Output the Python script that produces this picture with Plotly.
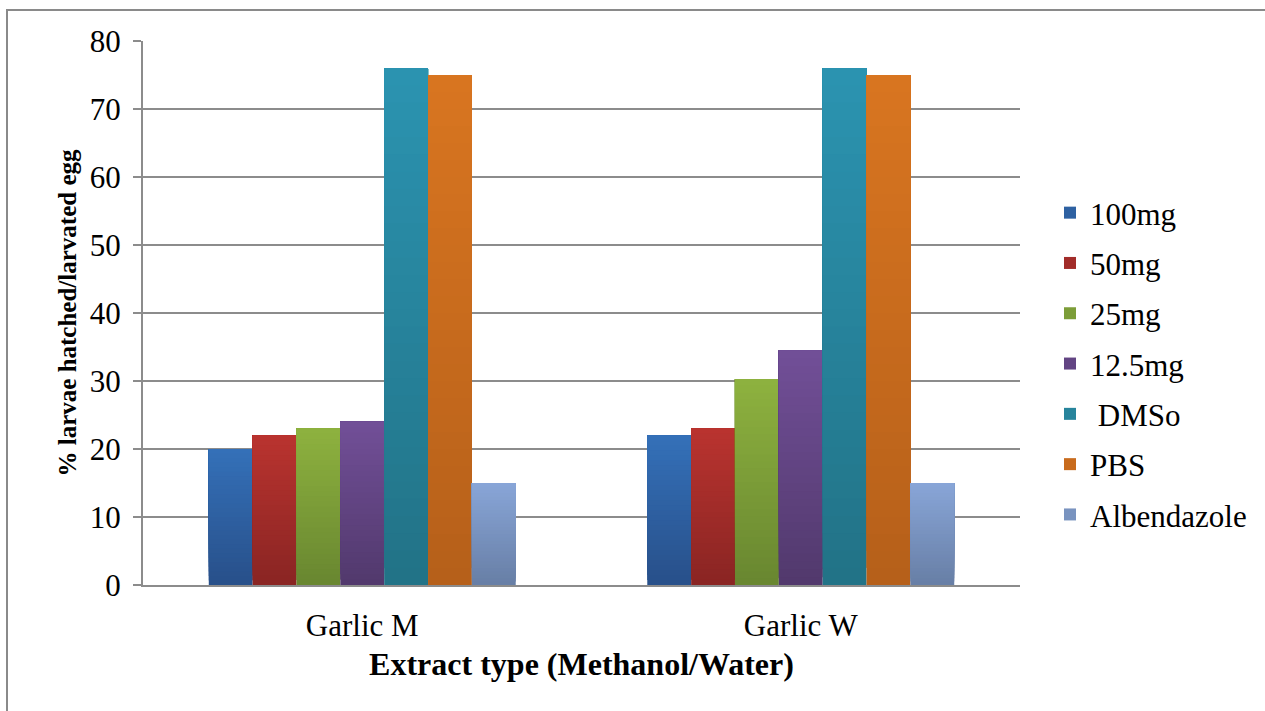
import plotly.graph_objects as go

# Extract types on the category axis
extracts = ["Garlic M", "Garlic W"]

# Percentage of larvae hatched / larvated egg for each treatment
series_names = ["100mg", "50mg", "25mg", "12.5mg", " DMSo", "PBS", "Albendazole"]
val_100mg = [20, 22]
val_50mg = [22, 23]
val_25mg = [23, 30.3]
val_12_5mg = [24, 34.5]
val_dmso = [76, 76]
val_pbs = [75, 75]
val_albendazole = [15, 15]

series_values = [val_100mg, val_50mg, val_25mg, val_12_5mg, val_dmso, val_pbs, val_albendazole]

# Each bar is shaded from a darker bottom colour to a lighter top colour
top_colors = ["#3470B8", "#B9332F", "#8DB13F", "#714F97", "#2B93B0", "#D87520", "#88A5D7"]
bottom_colors = ["#28508A", "#8A2523", "#698730", "#52396D", "#227387", "#B6601A", "#687FA6"]

y_ticks = [0, 10, 20, 30, 40, 50, 60, 70, 80]

SERIF = "Liberation Serif, Times New Roman, serif"
GRID = "#8C8C8C"
N_SHADES = 30


def hex_to_rgb(h):
    h = h.lstrip("#")
    return tuple(int(h[i:i + 2], 16) for i in (0, 2, 4))


def blend(c0, c1, t):
    a, b = hex_to_rgb(c0), hex_to_rgb(c1)
    return "rgb({},{},{})".format(*[round(a[j] + (b[j] - a[j]) * t) for j in range(3)])


fig = go.Figure()
for s, (name, vals) in enumerate(zip(series_names, series_values)):
    # Shade layers: layer k spans from k/N of the value up to the full value,
    # later (lighter) layers are painted over the earlier ones.
    for k in range(N_SHADES):
        col = blend(bottom_colors[s], top_colors[s], k / (N_SHADES - 1))
        fig.add_trace(go.Bar(
            x=extracts,
            y=[v * (N_SHADES - k) / N_SHADES for v in vals],
            base=[v * k / N_SHADES for v in vals],
            name=name,
            offsetgroup=str(s),
            legendgroup=f"g{s}",
            showlegend=(k == N_SHADES // 2),
            marker=dict(color=col, line=dict(width=0)),
            customdata=vals,
            hovertemplate=f"{name}: %{{customdata}}<extra></extra>",
        ))

L, R, T, B = 143, 245, 41, 126
W, H = 1265, 711
pw, ph = W - L - R, H - T - B

fig.update_layout(
    width=W, height=H,
    margin=dict(l=L, r=R, t=T, b=B),
    paper_bgcolor="white", plot_bgcolor="white",
    barmode="group", bargap=0.3, bargroupgap=0,
    font=dict(family=SERIF, color="black", size=31),
    legend=dict(
        x=(1050 - L) / pw, y=(585 - 186) / ph, xanchor="left", yanchor="top",
        font=dict(size=31, family=SERIF), traceorder="grouped",
        tracegroupgap=7, itemwidth=30, bgcolor="rgba(0,0,0,0)",
    ),
    xaxis=dict(
        showgrid=False, showline=True, linecolor=GRID, linewidth=2,
        ticks="", tickfont=dict(size=31, family=SERIF),
        ticklabelstandoff=12,
        title=dict(text="<b>Extract type (Methanol/Water)</b>",
                   font=dict(size=32, family=SERIF), standoff=10),
    ),
    yaxis=dict(
        range=[0, 80], tickvals=y_ticks, showgrid=True, gridcolor=GRID, gridwidth=2,
        showline=True, linecolor=GRID, linewidth=2, zeroline=False,
        ticks="outside", ticklen=8, tickcolor=GRID, tickwidth=2,
        tickfont=dict(size=31, family=SERIF), ticklabelstandoff=6,
        title=dict(text="<b>% larvae hatched/larvated egg</b>",
                   font=dict(size=25, family=SERIF), standoff=6),
    ),
    shapes=[dict(
        type="rect", xref="paper", yref="paper",
        x0=(7 - L) / pw, x1=(W + 20 - L) / pw,
        y0=(585 - (H + 20)) / ph, y1=(585 - 10) / ph,
        line=dict(color="#8A8A8A", width=2), fillcolor="rgba(0,0,0,0)", layer="below",
    )],
)

fig.write_html("out.html")
